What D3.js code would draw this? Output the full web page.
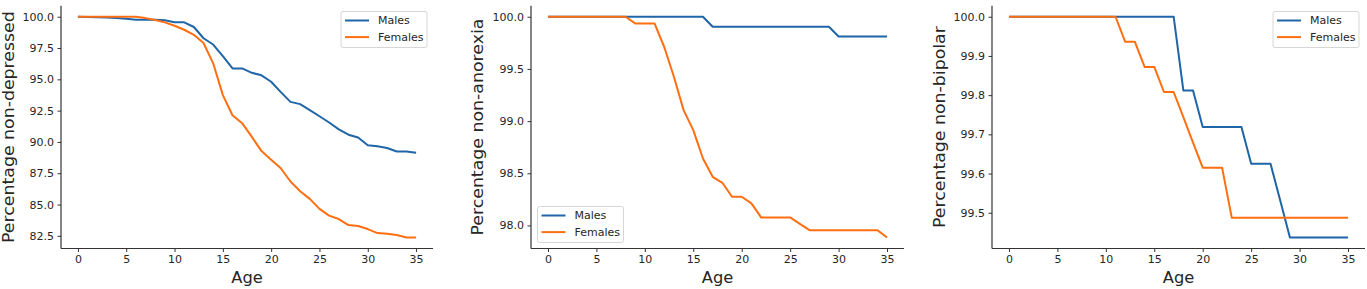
<!DOCTYPE html>
<html>
<head>
<meta charset="utf-8">
<script src="https://cdn.jsdelivr.net/npm/d3@7/dist/d3.min.js"></script>
<style>
  body { margin: 0; background: #fff; }
  svg { display: block; font-family: "DejaVu Sans", sans-serif; }
</style>
</head>
<body>
<svg id="chart" width="1367" height="289"></svg>
<script>
// ages 0..35
const ages = [0, 1, 2, 3, 4, 5, 6, 7, 8, 9, 10, 11, 12, 13, 14, 15, 16, 17,
  18, 19, 20, 21, 22, 23, 24, 25, 26, 27, 28, 29, 30, 31, 32, 33, 34, 35];
const seriesNames = ['Males', 'Females'];
const xTicks = [0, 5, 10, 15, 20, 25, 30, 35];

// depression
const depressedMales = [100, 99.97, 99.95, 99.93, 99.9, 99.83, 99.75, 99.75, 99.75, 99.72,
  99.56, 99.55, 99.18, 98.28, 97.78, 96.85, 95.87, 95.87, 95.52, 95.32,
  94.81, 93.98, 93.2, 93.02, 92.54, 92.05, 91.55, 91.0, 90.58, 90.35,
  89.73, 89.65, 89.52, 89.24, 89.24, 89.13];
const depressedFemales = [100, 100, 100, 100, 100, 100, 100, 99.89, 99.74, 99.55,
  99.28, 98.96, 98.56, 97.9, 96.28, 93.74, 92.13, 91.5, 90.4, 89.27,
  88.58, 87.9, 86.84, 86.06, 85.45, 84.65, 84.11, 83.84, 83.36, 83.28,
  83.04, 82.72, 82.66, 82.56, 82.37, 82.37];
const depressedTicks = [82.5, 85.0, 87.5, 90.0, 92.5, 95.0, 97.5, 100.0];

// anorexia
const anorexiaMales = [100, 100, 100, 100, 100, 100, 100, 100, 100, 100,
  100, 100, 100, 100, 100, 100, 100, 99.904, 99.904, 99.904,
  99.904, 99.904, 99.904, 99.904, 99.904, 99.904, 99.904, 99.904, 99.904, 99.904,
  99.81, 99.81, 99.81, 99.81, 99.81, 99.81];
const anorexiaFemales = [100, 100, 100, 100, 100, 100, 100, 100, 100, 99.936,
  99.936, 99.936, 99.71, 99.425, 99.105, 98.914, 98.642, 98.466, 98.409, 98.275,
  98.275, 98.211, 98.077, 98.077, 98.077, 98.077, 98.016, 97.955, 97.955, 97.955,
  97.955, 97.955, 97.955, 97.955, 97.955, 97.885];
const anorexiaTicks = [98.0, 98.5, 99.0, 99.5, 100.0];

// bipolar
const bipolarMales = [100, 100, 100, 100, 100, 100, 100, 100, 100, 100,
  100, 100, 100, 100, 100, 100, 100, 100, 99.812, 99.812,
  99.719, 99.719, 99.719, 99.719, 99.719, 99.625, 99.625, 99.625, 99.531, 99.437,
  99.437, 99.437, 99.437, 99.437, 99.437, 99.437];
const bipolarFemales = [100, 100, 100, 100, 100, 100, 100, 100, 100, 100,
  100, 100, 99.936, 99.936, 99.872, 99.872, 99.808, 99.808, 99.744, 99.679,
  99.615, 99.615, 99.615, 99.487, 99.487, 99.487, 99.487, 99.487, 99.487, 99.487,
  99.487, 99.487, 99.487, 99.487, 99.487, 99.487];
const bipolarTicks = [99.5, 99.6, 99.7, 99.8, 99.9, 100.0];

const colors = { Males: '#1f65a8', Females: '#ff6f12' };
const textColor = '#262626';
const axisColor = '#333';

let svg = d3.select('#chart');

let panels = [
  { left: 61, right: 433, labelX: 9, title: 'Percentage non-depressed',
    males: depressedMales, females: depressedFemales, ticks: depressedTicks, legend: 'upper' },
  { left: 531, right: 904, labelX: 478, title: 'Percentage non-anorexia',
    males: anorexiaMales, females: anorexiaFemales, ticks: anorexiaTicks, legend: 'lower' },
  { left: 992, right: 1365, labelX: 940, title: 'Percentage non-bipolar',
    males: bipolarMales, females: bipolarFemales, ticks: bipolarTicks, legend: 'upper' }
];

let plotTop = 5.7, plotBottom = 248.5;

panels.forEach((p) => drawPanel(p));

function drawPanel(p) {
  let g = svg.append('g').attr('transform', 'translate(' + p.left + ',0)');
  let w = p.right - p.left;

  let xMin = d3.min(ages), xMax = d3.max(ages), xPad = (xMax - xMin) * 0.05;
  let xScale = d3.scaleLinear().domain([xMin - xPad, xMax + xPad]).range([0, w]);

  let all = p.males.concat(p.females);
  let yMin = d3.min(all), yMax = d3.max(all), yPad = (yMax - yMin) * 0.05;
  let yScale = d3.scaleLinear().domain([yMin - yPad, yMax + yPad]).range([plotBottom, plotTop]);

  let line = d3.line()
    .x((d, i) => xScale(ages[i]))
    .y((d) => yScale(d));

  [['Males', p.males], ['Females', p.females]].forEach((s) => {
    g.append('path')
      .datum(s[1])
      .attr('fill', 'none')
      .attr('stroke', colors[s[0]])
      .attr('stroke-width', 2)
      .attr('stroke-linejoin', 'round')
      .attr('d', line);
  });

  // axes
  let xAxis = g.append('g')
    .attr('transform', 'translate(0,' + plotBottom + ')')
    .call(d3.axisBottom(xScale).tickValues(xTicks).tickSize(3.5).tickPadding(3.5).tickSizeOuter(0));
  let yAxis = g.append('g')
    .call(d3.axisLeft(yScale).tickValues(p.ticks).tickFormat(d3.format('.1f'))
      .tickSize(3.5).tickPadding(3.5).tickSizeOuter(0));

  [xAxis, yAxis].forEach((a) => {
    a.select('.domain').attr('stroke', axisColor).attr('stroke-width', 1.2);
    a.selectAll('.tick line').attr('stroke', axisColor).attr('stroke-width', 1);
    a.selectAll('.tick text')
      .attr('fill', textColor)
      .style('font-size', '11px')
      .style('font-family', '"DejaVu Sans", sans-serif');
  });
  yAxis.select('.domain').attr('d', 'M0,' + plotTop + 'V' + plotBottom);
  xAxis.select('.domain').attr('d', 'M0,0H' + w);

  // axis titles
  g.append('text')
    .attr('x', xScale(17.5))
    .attr('y', 283)
    .attr('text-anchor', 'middle')
    .attr('fill', textColor)
    .style('font-size', '16.3px')
    .text('Age');

  // picture is a bit taller than wide, so stretch the rotated label along its length
  svg.append('text')
    .attr('transform', 'translate(' + p.labelX + ',' + ((plotTop + plotBottom) / 2) + ') rotate(-90) scale(1.12,1)')
    .attr('text-anchor', 'middle')
    .attr('dominant-baseline', 'central')
    .attr('fill', textColor)
    .style('font-size', '15.5px')
    .text(p.title);

  // legend
  let lw = 86, lh = 36;
  let lx = p.legend === 'upper' ? w - lw - 6 : 6.5;
  let ly = p.legend === 'upper' ? 11.5 : plotBottom - lh - 6;
  let leg = g.append('g').attr('transform', 'translate(' + lx + ',' + ly + ')');
  leg.append('rect')
    .attr('width', lw).attr('height', lh)
    .attr('rx', 2)
    .attr('fill', '#fff').attr('fill-opacity', 0.8)
    .attr('stroke', '#d6d6d6').attr('stroke-width', 1);
  seriesNames.forEach((name, i) => {
    let yy = 9 + i * 16.6;
    leg.append('line')
      .attr('x1', 4).attr('x2', 28)
      .attr('y1', yy).attr('y2', yy)
      .attr('stroke', colors[name]).attr('stroke-width', 2);
    leg.append('text')
      .attr('x', 37).attr('y', yy)
      .attr('dominant-baseline', 'central')
      .attr('fill', textColor)
      .style('font-size', '11px')
      .text(name);
  });
}
</script>
</body>
</html>
